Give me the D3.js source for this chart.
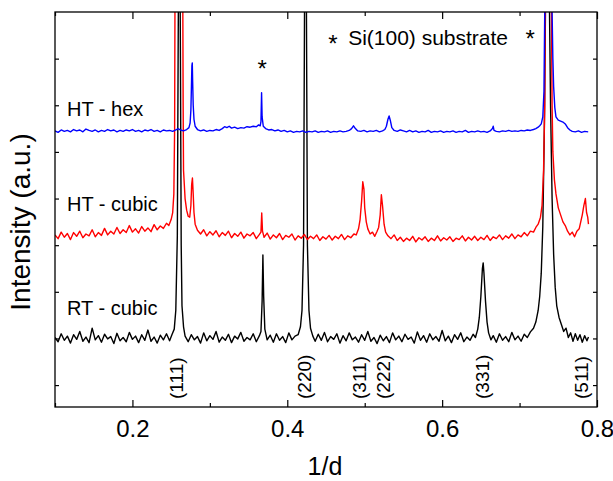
<!DOCTYPE html>
<html>
<head>
<meta charset="utf-8">
<script src="https://cdn.jsdelivr.net/npm/d3@7"></script>
<style>
  body { margin: 0; background: #fff; }
  svg text { font-family: "Liberation Sans", Arial, sans-serif; fill: #000; }
</style>
</head>
<body>
<svg id="xrd" width="613" height="481"></svg>
<script>
// x axis: 1/d, y axis: intensity (a.u.), curves stacked by offset
const xMajorTicks = [0.2, 0.4, 0.6, 0.8];
const xMinorTicks = [0.1, 0.3, 0.5, 0.7];
const yTicks = [0, 1, 2, 3, 4, 5, 6, 7];

const seriesNames = ['HT - hex', 'HT - cubic', 'RT - cubic'];
const seriesColors = ['#0000ff', '#ff0000', '#000000'];
const labelX = 0.1155;
const labelY = [5.77, 3.73, 1.50];

const hklLabels = ['(111)', '(220)', '(311)', '(222)', '(331)', '(511)'];
const hklPos = [0.258, 0.423, 0.494, 0.525, 0.653, 0.781];

// Si(100) substrate markers: [x, y]
const siStars = [[0.3675, 6.90], [0.459, 7.44], [0.7137, 7.55]];
const siText = 'Si(100) substrate';
const siTextPos = [0.4786, 7.29];

// RT - cubic (black)
const rtCubic = [
  [0.100,1.02],[0.104,0.93],[0.108,1.10],[0.112,0.96],[0.116,1.05],[0.120,0.90],[0.124,1.08],[0.128,0.98],
  [0.132,1.15],[0.136,0.94],[0.140,1.03],[0.144,0.91],[0.148,1.22],[0.152,0.97],[0.156,1.06],[0.160,0.92],
  [0.164,1.09],[0.168,0.99],[0.172,1.04],[0.176,0.89],[0.180,1.11],[0.184,0.95],[0.188,1.02],[0.192,0.93],
  [0.196,1.13],[0.200,0.98],[0.204,1.05],[0.208,0.91],[0.212,1.08],[0.216,0.96],[0.220,1.18],[0.224,0.94],
  [0.228,1.03],[0.232,0.90],[0.236,1.07],[0.240,0.97],[0.244,1.10],[0.248,0.95],[0.251,1.08],[0.254,1.20],
  [0.256,1.6],[0.258,3.2],[0.259,7.0],[0.2605,12],[0.262,7.0],[0.263,3.0],[0.264,1.7],[0.266,1.25],
  [0.268,1.05],[0.272,0.93],[0.276,1.08],[0.280,0.97],[0.284,1.04],[0.288,0.90],[0.292,1.12],[0.296,0.95],
  [0.300,1.06],[0.304,0.98],[0.308,1.15],[0.312,0.92],[0.316,1.03],[0.320,0.96],[0.324,1.09],[0.328,0.91],
  [0.332,1.05],[0.336,0.99],[0.340,1.13],[0.344,0.94],[0.348,1.02],[0.352,0.97],[0.356,1.10],[0.360,0.93],
  [0.364,1.06],[0.366,1.15],[0.3675,1.8],[0.3685,2.79],[0.3695,1.9],[0.371,1.2],[0.374,0.97],[0.378,1.07],
  [0.382,0.92],[0.386,1.10],[0.390,0.96],[0.394,1.04],[0.398,0.91],[0.402,1.12],[0.406,0.97],[0.410,1.05],
  [0.414,1.08],[0.417,1.25],[0.419,1.6],[0.421,3.0],[0.4225,9],[0.4235,14],[0.4245,9],[0.426,3.0],
  [0.428,1.6],[0.430,1.22],[0.433,1.05],[0.436,0.94],[0.440,1.09],[0.444,0.96],[0.448,1.13],[0.452,0.93],
  [0.456,1.04],[0.460,0.98],[0.464,1.10],[0.468,0.90],[0.472,1.06],[0.476,0.95],[0.480,1.12],[0.484,0.97],
  [0.488,1.03],[0.492,0.92],[0.496,1.08],[0.500,0.96],[0.504,1.15],[0.508,0.94],[0.512,1.02],[0.516,0.89],
  [0.520,1.07],[0.524,0.95],[0.528,1.04],[0.532,0.91],[0.536,1.12],[0.540,0.97],[0.544,1.05],[0.548,0.93],
  [0.552,1.09],[0.556,0.98],[0.560,1.03],[0.564,0.90],[0.568,1.14],[0.572,0.96],[0.576,1.06],[0.580,0.92],
  [0.584,1.10],[0.588,0.97],[0.592,1.04],[0.596,0.94],[0.600,1.17],[0.604,0.95],[0.608,1.05],[0.612,0.91],
  [0.616,1.08],[0.620,0.98],[0.624,1.12],[0.628,0.93],[0.632,1.03],[0.636,0.96],[0.640,1.09],[0.643,1.02],
  [0.646,1.20],[0.648,1.45],[0.650,1.9],[0.652,2.5],[0.653,2.62],[0.654,2.4],[0.656,1.8],[0.658,1.35],
  [0.660,1.12],[0.663,0.97],[0.666,1.06],[0.670,0.92],[0.674,1.10],[0.678,0.96],[0.682,1.04],[0.686,0.93],
  [0.690,1.13],[0.694,0.97],[0.698,1.05],[0.702,0.94],[0.706,1.09],[0.710,1.02],[0.714,1.14],[0.718,1.22],
  [0.721,1.35],[0.724,1.6],[0.726,1.9],[0.728,2.4],[0.730,3.4],[0.732,5.5],[0.734,9],[0.736,13],
  [0.738,9],[0.740,6.0],[0.742,4.0],[0.744,2.8],[0.746,2.1],[0.748,1.7],[0.751,1.45],[0.754,1.3],
  [0.757,1.15],[0.760,1.22],[0.763,1.02],[0.766,1.12],[0.769,0.94],[0.772,1.10],[0.775,0.96],[0.778,1.08],
  [0.781,0.92],[0.784,1.06],[0.787,0.95],[0.789,1.03]
];

// HT - cubic (red)
const htCubic = [
  [0.100,3.22],[0.104,3.14],[0.108,3.28],[0.112,3.17],[0.116,3.25],[0.120,3.12],[0.124,3.27],[0.128,3.19],
  [0.132,3.30],[0.136,3.16],[0.140,3.24],[0.144,3.20],[0.148,3.33],[0.152,3.18],[0.156,3.27],[0.160,3.21],
  [0.164,3.36],[0.168,3.22],[0.172,3.30],[0.176,3.24],[0.180,3.38],[0.184,3.25],[0.188,3.33],[0.192,3.27],
  [0.196,3.42],[0.200,3.28],[0.204,3.35],[0.208,3.26],[0.212,3.40],[0.216,3.30],[0.220,3.37],[0.224,3.29],
  [0.228,3.44],[0.232,3.33],[0.236,3.41],[0.240,3.36],[0.244,3.47],[0.247,3.42],[0.250,3.55],[0.252,3.70],
  [0.2535,4.1],[0.2545,5.5],[0.255,8.5],[0.2565,15],[0.260,20],[0.2635,15],[0.265,8.5],[0.2655,6],
  [0.266,4.6],[0.268,4.0],[0.270,3.75],[0.272,3.62],[0.274,3.60],[0.2755,3.85],[0.2765,4.3],[0.2775,4.44],
  [0.2785,4.1],[0.2795,3.7],[0.281,3.45],[0.284,3.32],[0.288,3.24],[0.292,3.33],[0.296,3.20],[0.300,3.29],
  [0.304,3.22],[0.308,3.31],[0.312,3.18],[0.316,3.27],[0.320,3.21],[0.324,3.30],[0.328,3.16],[0.332,3.25],
  [0.336,3.19],[0.340,3.28],[0.344,3.15],[0.348,3.24],[0.352,3.20],[0.356,3.27],[0.360,3.14],[0.364,3.23],
  [0.366,3.28],[0.367,3.69],[0.368,3.30],[0.370,3.17],[0.374,3.26],[0.378,3.13],[0.382,3.22],[0.386,3.16],
  [0.390,3.25],[0.394,3.12],[0.398,3.21],[0.402,3.17],[0.406,3.24],[0.410,3.11],[0.414,3.20],[0.418,3.15],
  [0.422,3.23],[0.426,3.12],[0.430,3.19],[0.434,3.14],[0.438,3.22],[0.442,3.10],[0.446,3.18],[0.450,3.13],
  [0.454,3.21],[0.458,3.11],[0.462,3.19],[0.466,3.14],[0.470,3.23],[0.474,3.12],[0.478,3.20],[0.482,3.16],
  [0.486,3.24],[0.489,3.22],[0.492,3.35],[0.494,3.55],[0.496,3.95],[0.4975,4.36],[0.499,4.2],[0.500,3.8],
  [0.502,3.5],[0.504,3.35],[0.507,3.24],[0.510,3.28],[0.513,3.19],[0.516,3.30],[0.518,3.38],[0.520,3.65],
  [0.5215,4.08],[0.523,3.85],[0.525,3.45],[0.527,3.28],[0.530,3.20],[0.534,3.14],[0.538,3.22],[0.542,3.10],
  [0.546,3.17],[0.550,3.08],[0.554,3.15],[0.558,3.10],[0.562,3.19],[0.566,3.07],[0.570,3.16],[0.574,3.11],
  [0.578,3.18],[0.582,3.08],[0.586,3.15],[0.590,3.10],[0.594,3.20],[0.598,3.09],[0.602,3.16],[0.606,3.11],
  [0.610,3.18],[0.614,3.08],[0.618,3.15],[0.622,3.12],[0.626,3.20],[0.630,3.09],[0.634,3.17],[0.638,3.11],
  [0.642,3.19],[0.646,3.10],[0.650,3.17],[0.654,3.12],[0.658,3.21],[0.662,3.10],[0.666,3.18],[0.670,3.14],
  [0.674,3.22],[0.678,3.12],[0.682,3.20],[0.686,3.15],[0.690,3.24],[0.694,3.14],[0.698,3.22],[0.702,3.18],
  [0.706,3.27],[0.710,3.20],[0.714,3.30],[0.718,3.28],[0.721,3.38],[0.724,3.45],[0.727,3.60],[0.729,3.85],
  [0.731,4.6],[0.7325,6],[0.733,8.5],[0.735,15],[0.737,20],[0.739,15],[0.741,8.5],[0.742,6.0],
  [0.743,5.0],[0.745,4.4],[0.747,4.1],[0.750,3.8],[0.753,3.65],[0.756,3.5],[0.759,3.42],[0.762,3.30],
  [0.765,3.22],[0.768,3.28],[0.771,3.18],[0.774,3.30],[0.777,3.35],[0.779,3.50],[0.781,3.65],[0.783,3.85],
  [0.785,4.0],[0.7865,3.7],[0.788,3.6],[0.789,3.45]
];

// HT - hex (blue)
const htHex = [
  [0.100,5.45],[0.104,5.42],[0.108,5.47],[0.112,5.44],[0.116,5.46],[0.120,5.43],[0.124,5.48],[0.128,5.45],
  [0.132,5.47],[0.136,5.43],[0.140,5.49],[0.144,5.46],[0.148,5.44],[0.152,5.47],[0.156,5.43],[0.160,5.46],
  [0.164,5.44],[0.168,5.48],[0.172,5.45],[0.176,5.47],[0.180,5.43],[0.184,5.46],[0.188,5.44],[0.192,5.47],
  [0.196,5.45],[0.200,5.48],[0.204,5.44],[0.208,5.46],[0.212,5.43],[0.216,5.47],[0.220,5.45],[0.224,5.48],
  [0.228,5.44],[0.232,5.46],[0.236,5.43],[0.240,5.47],[0.244,5.45],[0.248,5.46],[0.252,5.44],[0.256,5.47],
  [0.259,5.50],[0.262,5.47],[0.266,5.45],[0.270,5.48],[0.273,5.52],[0.2745,5.62],[0.2755,5.9],[0.2762,6.4],
  [0.2768,6.85],[0.2773,6.91],[0.2778,6.5],[0.2785,6.0],[0.2795,5.7],[0.281,5.55],[0.284,5.48],[0.288,5.45],
  [0.292,5.47],[0.296,5.44],[0.300,5.46],[0.304,5.45],[0.308,5.48],[0.312,5.46],[0.316,5.50],[0.319,5.54],
  [0.322,5.52],[0.325,5.55],[0.328,5.51],[0.332,5.53],[0.336,5.50],[0.340,5.52],[0.344,5.51],[0.348,5.54],
  [0.352,5.53],[0.356,5.55],[0.360,5.54],[0.363,5.58],[0.365,5.56],[0.366,5.65],[0.3668,6.27],[0.3675,5.75],
  [0.369,5.55],[0.372,5.50],[0.376,5.47],[0.380,5.48],[0.384,5.45],[0.388,5.47],[0.392,5.44],[0.396,5.46],
  [0.400,5.43],[0.404,5.45],[0.408,5.42],[0.412,5.44],[0.416,5.43],[0.420,5.45],[0.424,5.42],[0.428,5.44],
  [0.432,5.43],[0.436,5.45],[0.440,5.42],[0.444,5.44],[0.448,5.43],[0.452,5.45],[0.456,5.42],[0.460,5.44],
  [0.464,5.43],[0.468,5.45],[0.472,5.43],[0.476,5.44],[0.480,5.46],[0.483,5.50],[0.4855,5.56],[0.488,5.50],
  [0.491,5.45],[0.495,5.44],[0.499,5.46],[0.503,5.43],[0.507,5.45],[0.511,5.44],[0.515,5.46],[0.519,5.43],
  [0.523,5.45],[0.526,5.48],[0.528,5.55],[0.530,5.70],[0.5315,5.77],[0.533,5.68],[0.535,5.52],[0.538,5.46],
  [0.542,5.44],[0.546,5.47],[0.550,5.45],[0.554,5.43],[0.558,5.46],[0.562,5.43],[0.566,5.45],[0.570,5.42],
  [0.574,5.44],[0.578,5.43],[0.582,5.46],[0.586,5.42],[0.590,5.44],[0.594,5.43],[0.598,5.45],[0.602,5.42],
  [0.606,5.44],[0.610,5.43],[0.614,5.45],[0.618,5.42],[0.622,5.44],[0.626,5.43],[0.630,5.46],[0.634,5.42],
  [0.638,5.44],[0.642,5.43],[0.646,5.45],[0.650,5.43],[0.654,5.44],[0.658,5.42],[0.662,5.45],[0.665,5.50],
  [0.666,5.55],[0.667,5.46],[0.670,5.44],[0.674,5.43],[0.678,5.45],[0.682,5.44],[0.686,5.46],[0.690,5.44],
  [0.694,5.45],[0.698,5.44],[0.702,5.46],[0.706,5.45],[0.710,5.47],[0.714,5.46],[0.718,5.48],[0.721,5.50],
  [0.724,5.53],[0.726,5.56],[0.728,5.60],[0.730,5.75],[0.7315,6.3],[0.7325,8.0],[0.734,12],[0.736,18],
  [0.738,16],[0.740,11],[0.742,8.0],[0.743,7.0],[0.744,6.4],[0.7455,5.95],[0.747,5.75],[0.750,5.68],
  [0.753,5.66],[0.756,5.64],[0.759,5.60],[0.762,5.52],[0.765,5.47],[0.768,5.44],[0.772,5.43],[0.776,5.45],
  [0.780,5.42],[0.784,5.44],[0.7886,5.43]
];

const allSeries = [htHex, htCubic, rtCubic];

function plotXRD() {
    var svg = d3.select('svg#xrd'),
        margin = {top: 12, right: 16, bottom: 74, left: 55},
        width = +svg.attr('width') - margin.left - margin.right,
        height = +svg.attr('height') - margin.top - margin.bottom,
        g = svg.append('g').attr('transform', 'translate(' + margin.left + ',' + margin.top + ')');

    var x = d3.scaleLinear().domain([0.1, 0.8]).range([0, width]);
    var y = d3.scaleLinear().domain([-0.47, 8]).range([height, 0]);

    svg.append('defs').append('clipPath')
        .attr('id', 'plot-clip')
        .append('rect')
        .attr('width', width)
        .attr('height', height);

    var line = d3.line()
        .x(function(d) { return x(d[0]); })
        .y(function(d) { return y(d[1]); });

    // black drawn first, blue last
    var order = [2, 1, 0];
    g.append('g')
        .attr('clip-path', 'url(#plot-clip)')
        .selectAll('path')
        .data(order)
        .enter().append('path')
            .attr('d', function(i) { return line(allSeries[i]); })
            .attr('fill', 'none')
            .attr('stroke', function(i) { return seriesColors[i]; })
            .attr('stroke-width', 1.4)
            .attr('stroke-linejoin', 'round');

    // axes, ticks pointing inwards
    g.append('g')
        .attr('transform', 'translate(0,' + height + ')')
        .call(d3.axisBottom(x).tickValues(xMinorTicks).tickSize(-4).tickFormat(''));
    g.append('g')
        .attr('class', 'x-major')
        .attr('transform', 'translate(0,' + height + ')')
        .call(d3.axisBottom(x).tickValues(xMajorTicks).tickSize(-7).tickPadding(13).tickFormat(d3.format('.1f')));
    g.append('g')
        .call(d3.axisTop(x).tickValues(xMinorTicks).tickSize(-4).tickFormat(''));
    g.append('g')
        .call(d3.axisTop(x).tickValues(xMajorTicks).tickSize(-7).tickFormat(''));
    g.append('g')
        .call(d3.axisLeft(y).tickValues(yTicks).tickSize(-4).tickFormat(''));
    g.append('g')
        .attr('transform', 'translate(' + width + ',0)')
        .call(d3.axisRight(y).tickValues(yTicks).tickSize(-4).tickFormat(''));

    g.selectAll('.domain').remove();
    g.selectAll('.tick line').attr('stroke', '#000').attr('stroke-width', 1.2);
    g.selectAll('.x-major text')
        .attr('font-size', 24)
        .attr('font-family', '"Liberation Sans", Arial, sans-serif');

    g.append('rect')
        .attr('width', width)
        .attr('height', height)
        .attr('fill', 'none')
        .attr('stroke', '#000')
        .attr('stroke-width', 1.3);

    // curve labels
    g.selectAll('.series-label')
        .data(seriesNames)
        .enter().append('text')
            .attr('class', 'series-label')
            .attr('x', x(labelX))
            .attr('y', function(d, i) { return y(labelY[i]); })
            .attr('font-size', 20)
            .text(function(d) { return d; });

    // reflection indices
    g.selectAll('.hkl')
        .data(hklLabels)
        .enter().append('text')
            .attr('class', 'hkl')
            .attr('transform', function(d, i) { return 'translate(' + x(hklPos[i]) + ',' + (height - 8) + ') rotate(-90)'; })
            .attr('dy', '0.3em')
            .attr('font-size', 19)
            .text(function(d) { return d; });

    // substrate markers
    g.selectAll('.star')
        .data(siStars)
        .enter().append('text')
            .attr('class', 'star')
            .attr('x', function(d) { return x(d[0]); })
            .attr('y', function(d) { return y(d[1]); })
            .attr('dy', '0.59em')
            .attr('text-anchor', 'middle')
            .attr('font-size', 24)
            .text('*');

    g.append('text')
        .attr('x', x(siTextPos[0]))
        .attr('y', y(siTextPos[1]))
        .attr('font-size', 21)
        .text(siText);

    // axis titles
    svg.append('text')
        .attr('x', 325)
        .attr('y', 475)
        .attr('text-anchor', 'middle')
        .attr('font-size', 25)
        .text('1/d');

    svg.append('text')
        .attr('transform', 'translate(30,222) rotate(-90)')
        .attr('text-anchor', 'middle')
        .attr('font-size', 28)
        .text('Intensity (a.u.)');
}

plotXRD();
</script>
</body>
</html>
